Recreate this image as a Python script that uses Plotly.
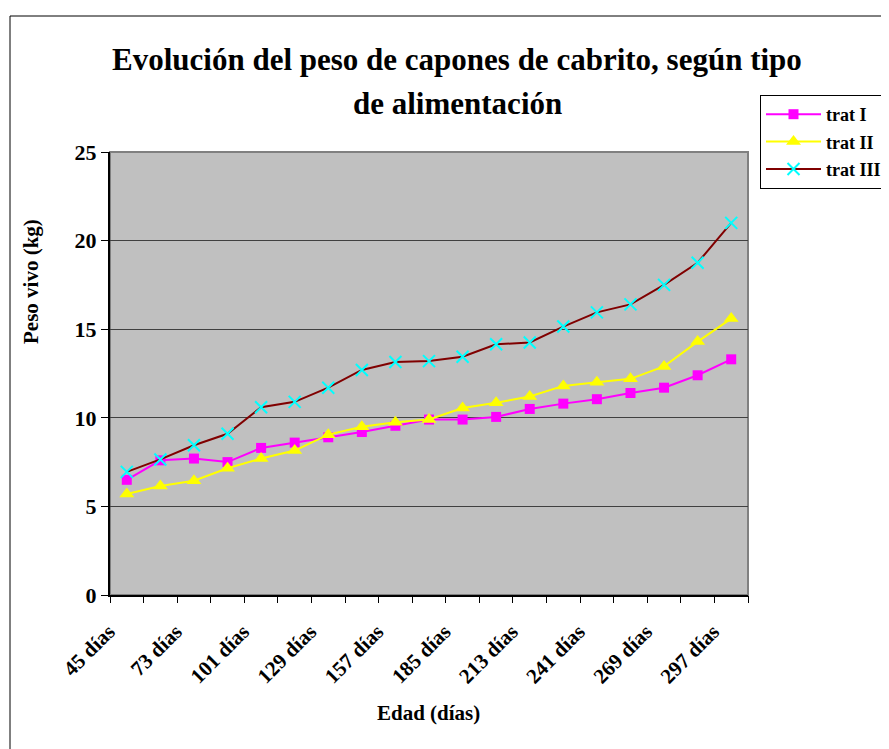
import plotly.graph_objects as go

dias = ["45 días", "59 días", "73 días", "87 días", "101 días", "115 días", "129 días",
        "143 días", "157 días", "171 días", "185 días", "199 días", "213 días", "227 días",
        "241 días", "255 días", "269 días", "283 días", "297 días"]
etiquetas = dias[::2]

trat_I = [6.5, 7.6, 7.7, 7.5, 8.3, 8.6, 8.9, 9.2, 9.55, 9.9, 9.9, 10.05, 10.5, 10.8,
          11.05, 11.4, 11.7, 12.4, 13.3]
trat_II = [5.7, 6.15, 6.45, 7.15, 7.7, 8.15, 9.05, 9.5, 9.75, 9.9, 10.55, 10.85, 11.2,
           11.8, 12.0, 12.2, 12.9, 14.3, 15.6]
trat_III = [6.95, 7.65, 8.45, 9.1, 10.6, 10.9, 11.7, 12.7, 13.15, 13.2, 13.45, 14.15,
            14.25, 15.15, 15.95, 16.4, 17.5, 18.75, 21.0]

FONT = "Liberation Serif"
OFF = 8  # page body margin
W, H = 889 - OFF, 749 - OFF
# plot area in screen pixels
SX0, SX1, SY0, SY1 = 110, 748, 152, 595
L, R, T, B = SX0 - OFF, W - (SX1 - OFF), SY0 - OFF, H - (SY1 - OFF)
pw, ph = W - L - R, H - T - B


def px_x(p):
    return (p - OFF - L) / pw


def px_y(p):
    return (H - B - (p - OFF)) / ph


fig = go.Figure()
fig.add_trace(go.Scatter(
    x=dias, y=trat_I, name="<b>trat I</b>", mode="lines+markers", legendgroup="a",
    line=dict(color="#FF00FF", width=2),
    marker=dict(symbol="square", size=10, color="#FF00FF")))
fig.add_trace(go.Scatter(
    x=dias, y=trat_II, name="<b>trat II</b>", mode="lines+markers", legendgroup="b",
    line=dict(color="#FFFF00", width=2),
    marker=dict(symbol="triangle-up", size=13, color="#FFFF00")))
fig.add_trace(go.Scatter(
    x=dias, y=trat_III, name="<b>trat III</b>", mode="lines+markers", legendgroup="c",
    line=dict(color="#800000", width=2),
    marker=dict(symbol="x-thin", size=12, color="#00FFFF",
                line=dict(color="#00FFFF", width=2))))

# invisible trace on overlay axis for boundary ticks
fig.add_trace(go.Scatter(x=[-0.5, len(dias) - 0.5], y=[0, 0], xaxis="x2",
                         mode="markers", marker=dict(opacity=0), showlegend=False,
                         hoverinfo="skip"))

fig.update_layout(
    width=W, height=H,
    margin=dict(l=L, r=R, t=T, b=B, autoexpand=False),
    paper_bgcolor="white",
    plot_bgcolor="#C0C0C0",
    font=dict(family=FONT, color="black"),
    showlegend=True,
    legend=dict(x=px_x(760), y=px_y(95), xanchor="left", yanchor="top",
                bgcolor="white", bordercolor="black", borderwidth=1,
                font=dict(family=FONT, size=18, color="black"),
                tracegroupgap=1, itemwidth=55, traceorder="grouped"),
    xaxis=dict(type="category", range=[-0.5, len(dias) - 0.5],
               tickvals=etiquetas, ticktext=["<b>%s</b>" % t for t in etiquetas],
               tickangle=-45, ticks="", showgrid=False,
               ticklabelstandoff=14, ticklabelshift=-18,
               tickfont=dict(family=FONT, size=21, color="black"),
               showline=True, linecolor="black", linewidth=2, zeroline=False),
    xaxis2=dict(overlaying="x", anchor="y", range=[-0.5, len(dias) - 0.5],
                tickvals=[i - 0.5 for i in range(len(dias) + 1)],
                ticks="outside", ticklen=7, tickcolor="black", tickwidth=1,
                showticklabels=False, showgrid=False, zeroline=False, showline=False),
    yaxis=dict(range=[0, 25], dtick=5, ticks="outside", ticklen=7, tickcolor="black",
               tickfont=dict(family=FONT, size=22, color="black"),
               tickprefix="<b>", ticksuffix="</b>",
               showgrid=True, gridcolor="#404040", gridwidth=1,
               showline=True, linecolor="black", linewidth=2, zeroline=False),
    shapes=[
        dict(type="rect", xref="paper", yref="paper", x0=0, x1=1, y0=0, y1=1,
             line=dict(color="#808080", width=2), layer="below"),
        dict(type="rect", xref="paper", yref="paper", x0=px_x(10), x1=px_x(1000),
             y0=px_y(900), y1=px_y(16), line=dict(color="black", width=1)),
    ],
    annotations=[
        dict(text="<b>Evolución del peso de capones de cabrito, según tipo</b>",
             x=px_x(457), y=px_y(60), xref="paper", yref="paper", showarrow=False,
             xanchor="center", yanchor="middle", font=dict(family=FONT, size=31)),
        dict(text="<b>de alimentación</b>",
             x=px_x(457), y=px_y(103), xref="paper", yref="paper", showarrow=False,
             xanchor="center", yanchor="middle", font=dict(family=FONT, size=31)),
        dict(text="<b>Peso vivo (kg)</b>", textangle=-90,
             x=px_x(31), y=px_y(282), xref="paper", yref="paper", showarrow=False,
             xanchor="center", yanchor="middle", font=dict(family=FONT, size=21)),
        dict(text="<b>Edad (días)</b>",
             x=px_x(428), y=px_y(713), xref="paper", yref="paper", showarrow=False,
             xanchor="center", yanchor="middle", font=dict(family=FONT, size=21)),
    ],
)

fig.write_html("out.html")
